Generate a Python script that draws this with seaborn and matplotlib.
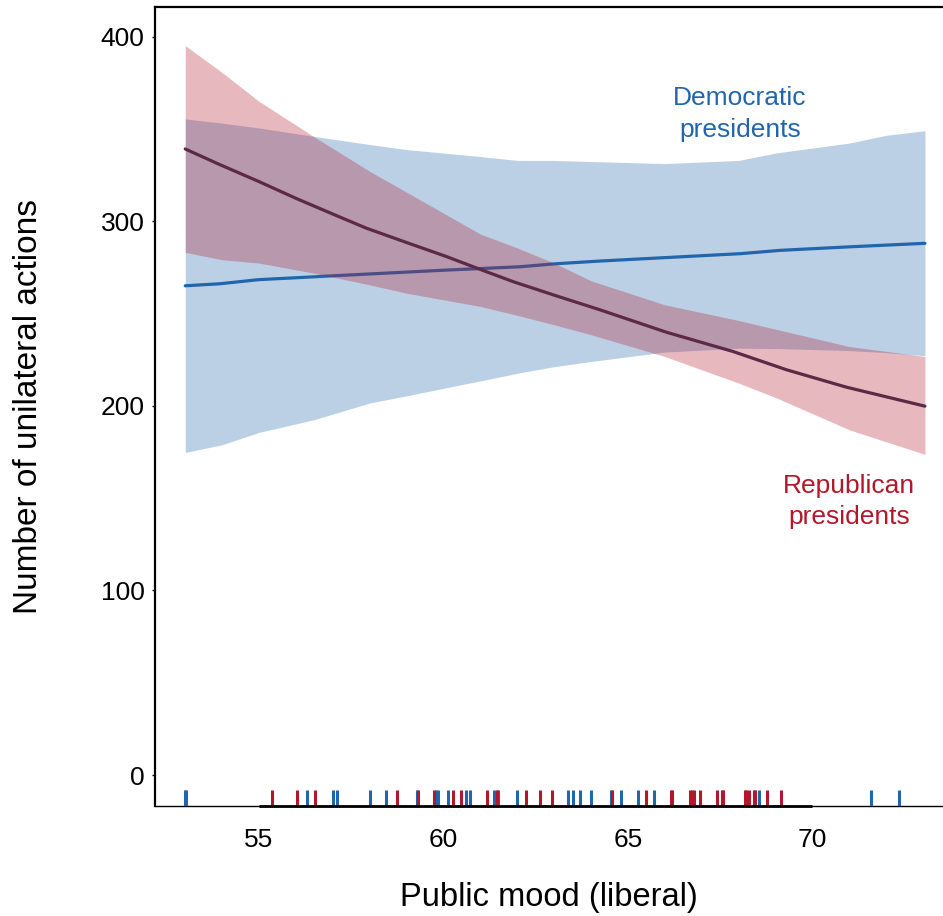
import numpy as np
import pandas as pd
import matplotlib
matplotlib.use("Agg")
import matplotlib.pyplot as plt
import matplotlib.transforms as mtransforms
import seaborn as sns

# ---- data ----
# confidence bands
band_mood = [53, 54, 55, 56.5, 58, 59, 61, 62, 63, 64, 66, 68, 69, 71, 72, 73.05]
dem_upper = [355.4, 353.1, 350.5, 345.9, 341.5, 338.8, 335.0, 332.9, 332.9, 332.3, 331.2, 332.9, 336.9, 342.3, 346.5, 349.0]
dem_lower = [174.7, 178.9, 185.6, 192.5, 201.5, 205.4, 213.5, 217.6, 221.2, 224.0, 229.1, 231.2, 231.0, 229.9, 228.8, 227.1]
rep_upper = [395.1, 380.5, 364.9, 345.6, 327.0, 315.7, 293.0, 285.5, 277.3, 267.7, 254.7, 246.2, 241.5, 232.1, 229.5, 226.7]
rep_lower = [283.1, 279.1, 277.3, 271.8, 265.5, 261.0, 253.8, 249.0, 243.9, 238.5, 226.7, 212.3, 204.5, 187.0, 180.5, 173.7]

# fitted lines
dem_line_mood = [53.0, 53.94, 54.98, 57.1, 60.07, 62.07, 63.02, 64.24, 66.05, 68.05, 69.13, 71.11, 73.05]
dem_fit = [265.0, 266.1, 268.3, 270.5, 273.5, 275.3, 276.9, 278.4, 280.3, 282.4, 284.2, 286.2, 288.0]
rep_line_mood = [53.0, 53.94, 54.98, 56.02, 57.1, 57.91, 58.99, 60.07, 60.98, 61.88, 63.02, 64.24,
                 66.05, 67.85, 69.3, 70.92, 73.05]
rep_fit = [339.1, 330.6, 321.6, 312.2, 303.0, 296.2, 288.5, 280.9, 274.0, 267.3, 259.8, 252.0,
           239.8, 229.4, 219.5, 210.1, 199.8]

# observed public mood values (rug)
dem_obs_mood = [53.0, 53.03, 56.29, 57.01, 57.1, 58.0, 58.43, 59.29, 59.8, 59.85, 60.12, 60.61,
                60.72, 61.38, 61.49, 61.99, 63.37, 63.5, 63.7, 63.99, 64.54, 64.82, 65.26,
                65.71, 68.54, 71.59, 72.34]
rep_obs_mood = [55.34, 56.03, 56.52, 58.75, 59.32, 59.75, 60.27, 60.47, 61.17, 61.44, 62.23,
                62.61, 62.95, 64.58, 65.5, 66.16, 66.2, 66.69, 66.74, 66.8, 66.96, 67.42,
                67.55, 67.59, 68.16, 68.21, 68.28, 68.42, 68.45, 68.78, 69.14]

x_ticks = [55, 60, 65, 70]
y_ticks = [0, 100, 200, 300, 400]

blue = "#2166ac"
red = "#b2182b"
red_line = "#5c2946"

# ---- figure ----
sns.set_theme(style="white")
plt.rcParams["font.family"] = ["Liberation Sans", "DejaVu Sans"]
plt.rcParams["text.color"] = "black"
plt.rcParams["axes.labelcolor"] = "black"
plt.rcParams["xtick.color"] = "black"
plt.rcParams["ytick.color"] = "black"

fig = plt.figure(figsize=(9.43, 9.16), dpi=100)
ax = fig.add_axes([155 / 943, 1 - 805.7 / 916, 1 - 155 / 943, (805.7 - 7) / 916])

dem_df = pd.DataFrame({"mood": dem_line_mood, "fit": dem_fit})
rep_df = pd.DataFrame({"mood": rep_line_mood, "fit": rep_fit})

ax.fill_between(band_mood, dem_lower, dem_upper, color=blue, alpha=0.3, lw=0, zorder=1)
sns.lineplot(data=dem_df, x="mood", y="fit", color=blue, linewidth=2.3, ax=ax, zorder=2)
ax.fill_between(band_mood, rep_lower, rep_upper, color=red, alpha=0.3, lw=0, zorder=3)
sns.lineplot(data=rep_df, x="mood", y="fit", color=red_line, linewidth=2.3, ax=ax, zorder=4)

sns.rugplot(x=dem_obs_mood, color=blue, height=0.02, linewidth=2.2, ax=ax, zorder=5)
sns.rugplot(x=rep_obs_mood, color=red, height=0.02, linewidth=2.2, ax=ax, zorder=5)

ax.set_xlim(52.18, 73.54)
ax.set_ylim(-16.6, 416)
ax.set_xticks(x_ticks)
ax.set_yticks(y_ticks)
ax.tick_params(axis="y", length=2, width=1, color="black", labelcolor="black",
               labelsize=19, pad=5.5, left=True)
ax.tick_params(axis="x", length=0, labelsize=19, labelcolor="black", pad=16, bottom=True)

for side in ["left", "top"]:
    ax.spines[side].set_color("black")
    ax.spines[side].set_linewidth(1.6)
ax.spines["right"].set_visible(False)
ax.spines["bottom"].set_color("black")
ax.spines["bottom"].set_linewidth(1.0)
# thicker axis segment across the labelled range
trans = mtransforms.blended_transform_factory(ax.transData, ax.transAxes)
ax.plot([x_ticks[0], x_ticks[-1]], [0, 0], transform=trans, color="black", lw=2.0,
        clip_on=False, zorder=6, solid_capstyle="butt")

ax.set_xlabel("Public mood (liberal)", fontsize=23.5, color="black")
ax.set_ylabel("Number of unilateral actions", fontsize=24, color="black")
ax.yaxis.set_label_coords(-0.141, 0.5)
ax.xaxis.set_label_coords(0.5, -0.096)

ax.text(68.04, 358, "Democratic\npresidents", color=blue, fontsize=19, ha="center",
        va="center", linespacing=1.38)
ax.text(71.0, 148, "Republican\npresidents", color=red, fontsize=19, ha="center",
        va="center", linespacing=1.38)

fig.savefig("out.png", dpi=100)
